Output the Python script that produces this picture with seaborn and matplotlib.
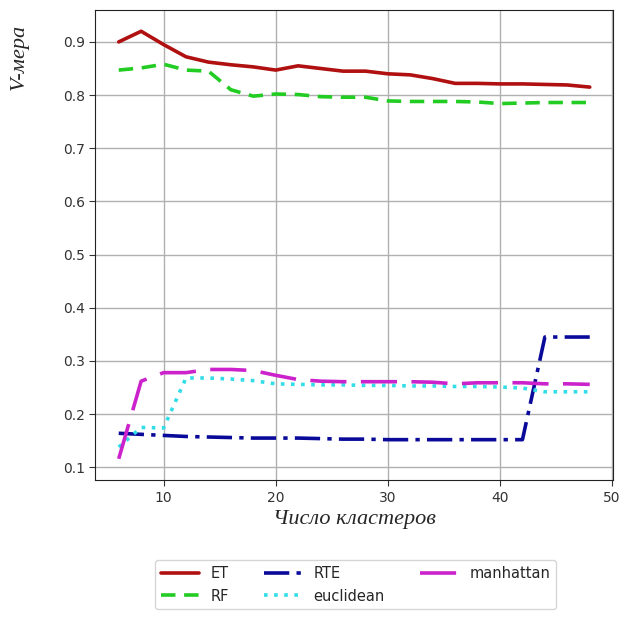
import matplotlib
matplotlib.use('Agg')
import matplotlib.pyplot as plt
import seaborn as sns

# number of clusters
clusters = [6, 8, 10, 12, 14, 16, 18, 20, 22, 24, 26, 28, 30, 32, 34, 36, 38, 40, 42, 44, 46, 48]

et = [0.900, 0.920, 0.895, 0.872, 0.862, 0.857, 0.853, 0.847, 0.855, 0.850, 0.845,
      0.845, 0.840, 0.838, 0.831, 0.822, 0.822, 0.821, 0.821, 0.820, 0.819, 0.815]
rf = [0.847, 0.851, 0.858, 0.847, 0.845, 0.810, 0.798, 0.802, 0.801, 0.797, 0.796,
      0.796, 0.789, 0.788, 0.788, 0.788, 0.787, 0.784, 0.785, 0.786, 0.786, 0.786]
rte = [0.164, 0.162, 0.160, 0.158, 0.157, 0.156, 0.155, 0.155, 0.155, 0.154, 0.153,
       0.153, 0.152, 0.152, 0.152, 0.152, 0.152, 0.152, 0.152, 0.345, 0.345, 0.345]
euclidean = [0.138, 0.175, 0.174, 0.268, 0.268, 0.266, 0.263, 0.257, 0.256, 0.255, 0.255,
             0.254, 0.254, 0.253, 0.253, 0.252, 0.252, 0.251, 0.249, 0.242, 0.242, 0.242]
manhattan = [0.116, 0.262, 0.278, 0.278, 0.284, 0.284, 0.282, 0.273, 0.265, 0.262, 0.261,
             0.261, 0.261, 0.261, 0.260, 0.257, 0.259, 0.259, 0.259, 0.257, 0.257, 0.256]

SERIES = [('ET', et, '#b01010', '-'),
          ('RF', rf, '#22cc22', (0, (4, 2.4))),
          ('RTE', rte, '#0a0a9a', (0, (7, 2, 1.2, 2))),
          ('euclidean', euclidean, '#33dde8', (0, (1, 1.8))),
          ('manhattan', manhattan, '#cc22cc', (0, (10, 4)))]

sns.set_style('whitegrid', {'axes.edgecolor': '#222222', 'grid.color': '#b0b0b0',
                            'xtick.bottom': True, 'ytick.left': True})
plt.rcParams['font.family'] = ['DejaVu Sans']

fig = plt.figure(figsize=(6.22, 6.18), dpi=100)
ax = fig.add_axes([0.153, 0.223, 0.833, 0.761])

for name, vals, col, ls in SERIES:
    sns.lineplot(x=clusters, y=vals, color=col, linestyle=ls, linewidth=2.6,
                 label=name, ax=ax, legend=False)

ax.set_xticks([10, 20, 30, 40, 50])
ax.set_yticks([0.1, 0.2, 0.3, 0.4, 0.5, 0.6, 0.7, 0.8, 0.9])
ax.tick_params(labelsize=10, length=4, color='#333333', labelcolor='#333333')
ax.grid(True, color='#b0b0b0', linewidth=1)

ax.set_xlabel('Число кластеров', fontsize=16, fontstyle='italic',
              family='Liberation Serif', labelpad=4)
ax.set_ylabel('V-мера', fontsize=16, fontstyle='italic',
              family='Liberation Serif')
ax.yaxis.set_label_coords(-0.128, 0.9)

fig.legend(*ax.get_legend_handles_labels(), loc='upper center', ncol=3,
           bbox_to_anchor=(0.572, 0.105), fontsize=10.5, handlelength=2.6,
           columnspacing=2.4, frameon=True, edgecolor='#cccccc')

plt.savefig('out.png', dpi=100)
